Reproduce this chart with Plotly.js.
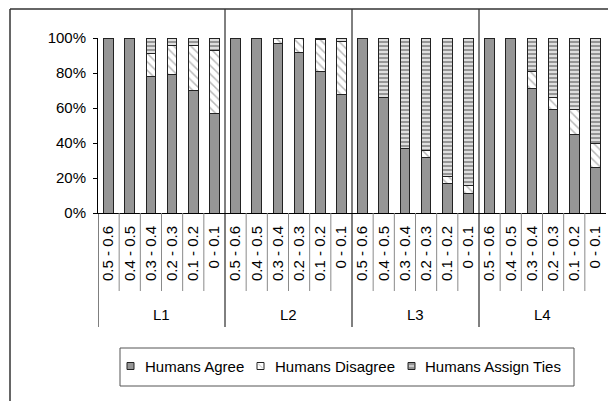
<!DOCTYPE html>
<html>
<head>
<meta charset="utf-8">
<script src="https://cdn.plot.ly/plotly-3.0.1.min.js"></script>
<style>html,body{margin:0;padding:0;background:#fff;}#chart{width:608px;height:401px;}</style>
</head>
<body>
<div id="chart"></div>
<script>
// ---- data ----
const groups = ['L1', 'L2', 'L3', 'L4'];
const bins = ['0.5 - 0.6', '0.4 - 0.5', '0.3 - 0.4', '0.2 - 0.3', '0.1 - 0.2', '0 - 0.1'];
const seriesNames = ['Humans Agree', 'Humans Disagree', 'Humans Assign Ties'];
const agree = [
  100, 100, 78, 79, 70, 57,
  100, 100, 97, 92, 81, 68,
  100, 66, 37, 32, 17, 11,
  100, 100, 71, 59, 45, 26
];
const disagree = [
  0, 0, 13, 17, 26, 36,
  0, 0, 3, 8, 18, 30,
  0, 0, 0, 4, 4, 5,
  0, 0, 10, 7, 14, 14
];
const ties = [
  0, 0, 9, 4, 4, 7,
  0, 0, 0, 0, 1, 2,
  0, 34, 63, 64, 79, 84,
  0, 0, 19, 34, 41, 60
];

// ---- geometry helpers ----
const FW = 608, FH = 401;
const M = {l: 98, r: 2, t: 38, b: 188};
const PW = FW - M.l - M.r, PH = FH - M.t - M.b;
const pxX = p => (p - M.l) / PW;
const pxY = p => (FH - M.b - p) / PH;

const xIdx = [];
const tickText = [];
groups.forEach((g, gi) => bins.forEach((b, bi) => { xIdx.push(gi * bins.length + bi); tickText.push(b); }));

const GRAY = '#969696';
const EDGE = '#222222';
const FONT = 'Liberation Sans, Arial, sans-serif';

const traces = [
  {type: 'bar', name: seriesNames[0], x: xIdx, y: agree,
   marker: {color: GRAY, line: {color: EDGE, width: 1}}},
  {type: 'bar', name: seriesNames[1], x: xIdx, y: disagree,
   marker: {color: '#ffffff', line: {color: EDGE, width: 1},
            pattern: {shape: '\\', fgcolor: '#b9b9b9', bgcolor: '#ffffff', size: 6, solidity: 0.25}}},
  {type: 'bar', name: seriesNames[2], x: xIdx, y: ties,
   marker: {color: GRAY, line: {color: EDGE, width: 1},
            pattern: {shape: '-', fgcolor: '#ffffff', bgcolor: GRAY, size: 4, solidity: 0.35}}}
];

const shapes = [];
// category separators in label region
const nCat = xIdx.length;
for (let k = 0; k <= nCat; k++) {
  const isGroup = k % bins.length === 0;
  if (k === nCat) continue;
  shapes.push({type: 'line', xref: 'x', yref: 'paper', x0: k - 0.5, x1: k - 0.5,
    y0: 0, y1: pxY(isGroup ? 327 : 291),
    line: {color: isGroup ? '#000000' : '#8a8a8a', width: 1}});
  if (isGroup && k > 0) {
    shapes.push({type: 'line', xref: 'x', yref: 'paper', x0: k - 0.5, x1: k - 0.5,
      y0: 0, y1: pxY(9), line: {color: '#000000', width: 1}});
  }
}
// chart frame (left and top)
shapes.push({type: 'line', xref: 'paper', yref: 'paper', x0: pxX(10), x1: pxX(10), y0: pxY(9), y1: pxY(402), line: {color: '#333', width: 1.5}});
shapes.push({type: 'line', xref: 'paper', yref: 'paper', x0: pxX(10), x1: pxX(609), y0: pxY(9), y1: pxY(9), line: {color: '#333', width: 1.5}});

// manual legend
shapes.push({type: 'rect', xref: 'paper', yref: 'paper', x0: pxX(120), x1: pxX(574), y0: pxY(348), y1: pxY(386), line: {color: '#555', width: 1}, fillcolor: 'rgba(0,0,0,0)'});
const swX = [127, 257, 408];
const txX = [143, 273, 423];
const swFill = [GRAY, '#ffffff', GRAY];
swX.forEach((sx, i) => {
  shapes.push({type: 'rect', xref: 'paper', yref: 'paper', x0: pxX(sx), x1: pxX(sx + 7), y0: pxY(362.5), y1: pxY(369.5), line: {color: EDGE, width: 1}, fillcolor: swFill[i]});
});
shapes.push({type: 'line', xref: 'paper', yref: 'paper', x0: pxX(swX[1] + 1), x1: pxX(swX[1] + 6), y0: pxY(363.5), y1: pxY(368.5), line: {color: '#c0c0c0', width: 1}});
shapes.push({type: 'line', xref: 'paper', yref: 'paper', x0: pxX(swX[2] + 1), x1: pxX(swX[2] + 6), y0: pxY(366), y1: pxY(366), line: {color: '#ffffff', width: 1}});

const annotations = [];
groups.forEach((g, gi) => {
  annotations.push({xref: 'x', yref: 'paper', x: gi * bins.length + (bins.length - 1) / 2, y: pxY(314),
    text: g, showarrow: false, xanchor: 'center', yanchor: 'middle', font: {family: FONT, size: 15, color: '#000'}});
});
seriesNames.forEach((n, i) => {
  annotations.push({xref: 'paper', yref: 'paper', x: pxX(txX[i]), y: pxY(366), text: n, showarrow: false,
    xanchor: 'left', yanchor: 'middle', font: {family: FONT, size: 15, color: '#000'}});
});

const layout = {
  width: FW, height: FH,
  margin: M,
  paper_bgcolor: '#ffffff', plot_bgcolor: '#ffffff',
  barmode: 'stack', bargap: 0.55,
  showlegend: false,
  font: {family: FONT, size: 15, color: '#000'},
  xaxis: {range: [-0.5, nCat - 0.5], tickmode: 'array', tickvals: xIdx, ticktext: tickText,
          tickangle: -90, ticks: '', showgrid: false, zeroline: false, showline: true,
          linecolor: '#000', linewidth: 1, ticklabelstandoff: 6,
          tickfont: {family: FONT, size: 15, color: '#000'}},
  yaxis: {range: [0, 100], dtick: 20, ticksuffix: '%', ticks: 'outside', ticklen: 4, tickcolor: '#000',
          showgrid: false, zeroline: false, showline: true, linecolor: '#000', linewidth: 1,
          ticklabelstandoff: 4, tickfont: {family: FONT, size: 15, color: '#000'}},
  shapes: shapes,
  annotations: annotations
};

Plotly.newPlot('chart', traces, layout, {staticPlot: true, displayModeBar: false});
</script>
</body>
</html>
